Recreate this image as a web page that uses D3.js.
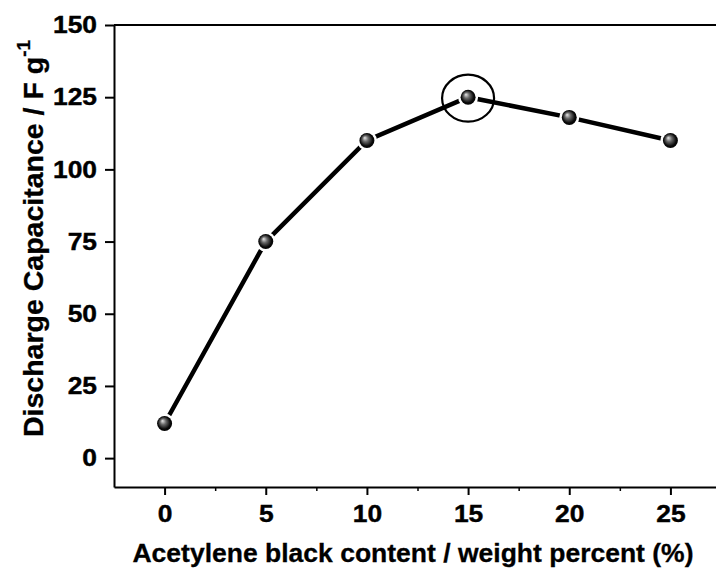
<!DOCTYPE html>
<html>
<head>
<meta charset="utf-8">
<script src="https://cdn.jsdelivr.net/npm/d3@7"></script>
<style>
  body { margin: 0; background: #fff; }
  svg { display: block; font-family: "Liberation Sans", Arial, sans-serif; font-weight: bold; }
</style>
</head>
<body>
<script>
// acetylene black content (wt %) vs discharge capacitance (F/g)
const content = [0, 5, 10, 15, 20, 25]
const capacitance = [12, 75, 110, 125, 118, 110]
const xTicks = [0, 5, 10, 15, 20, 25]
const xMinorTicks = [2.5, 7.5, 12.5, 17.5, 22.5, 27.5]
const yTicks = [0, 25, 50, 75, 100, 125, 150]
const highlighted = 15

const width = 716
const height = 569
const margin = ({ top: 25, right: -5, bottom: 82, left: 114 })

const data = content.map((c, i) => ({ x: c, y: capacitance[i] }))

const x = d3.scaleLinear()
    .domain([-2.5, 27.5])
    .range([margin.left, width - margin.right])
const y = d3.scaleLinear()
    .domain([-10, 150])
    .range([height - margin.bottom, margin.top])

const svg = d3.select('body')
    .append('svg')
    .attr('width', width)
    .attr('height', height)
    .attr('viewBox', [0, 0, width, height])

const defs = svg.append('defs')
const grad = defs.append('radialGradient')
    .attr('id', 'ball')
    .attr('cx', '50%').attr('cy', '50%').attr('r', '55%')
    .attr('fx', '35%').attr('fy', '32%')
grad.append('stop').attr('offset', '0%').attr('stop-color', '#e8e8e8')
grad.append('stop').attr('offset', '35%').attr('stop-color', '#6a6a6a')
grad.append('stop').attr('offset', '75%').attr('stop-color', '#0a0a0a')
grad.append('stop').attr('offset', '100%').attr('stop-color', '#000')

// x axis with minor ticks
svg.append('g')
    .attr('transform', `translate(0,${y(-10)})`)
    .call(d3.axisBottom(x).tickValues(xMinorTicks).tickSize(4).tickFormat(''))
    .call(g => g.select('.domain').remove())
    .call(g => g.selectAll('line').attr('stroke-width', 1.5))

// slightly wide, heavy tick digits like the original
const labelStyle = g => g.selectAll('text')
    .attr('font-size', 24)
    .attr('font-family', null)
    .attr('font-weight', 'bold')
    .attr('stroke', '#000')
    .attr('stroke-width', 0.4)
    .attr('lengthAdjust', 'spacingAndGlyphs')
    .attr('textLength', function () { return this.getComputedTextLength() * 1.1 })

const xAxis = g => g
    .attr('transform', `translate(0,${y(-10)})`)
    .call(d3.axisBottom(x).tickValues(xTicks).tickSize(8).tickSizeOuter(0).tickPadding(8))
    .call(g => g.select('.domain').attr('stroke-width', 2))
    .call(g => g.selectAll('.tick line').attr('stroke-width', 2))
    .call(labelStyle)
    .call(g => g.selectAll('text').attr('dy', '0.8em'))

const yAxis = g => g
    .attr('transform', `translate(${margin.left},0)`)
    .call(d3.axisLeft(y).tickValues(yTicks).tickSize(9).tickSizeOuter(0).tickPadding(8))
    .call(g => g.select('.domain').attr('stroke-width', 2))
    .call(g => g.selectAll('.tick line').attr('stroke-width', 2))
    .call(labelStyle)

svg.append('g').call(xAxis)
svg.append('g').call(yAxis)

// top frame line
svg.append('line')
    .attr('x1', x(-2.5)).attr('x2', x(27.5))
    .attr('y1', y(150)).attr('y2', y(150))
    .attr('stroke', '#000')
    .attr('stroke-width', 2)

const line = d3.line()
    .x(d => x(d.x))
    .y(d => y(d.y))

svg.append('path')
    .datum(data)
    .attr('fill', 'none')
    .attr('stroke', '#000')
    .attr('stroke-width', 4.5)
    .attr('d', line)

svg.append('g')
  .selectAll('circle')
  .data(data)
  .join('circle')
    .attr('cx', d => x(d.x))
    .attr('cy', d => y(d.y))
    .attr('r', 7.5)
    .attr('fill', 'url(#ball)')
    .attr('stroke', '#fff')
    .attr('stroke-width', 5)
    .attr('paint-order', 'stroke')

// highlight ring around the optimum
const best = data.find(d => d.x === highlighted)
svg.append('ellipse')
    .attr('cx', x(best.x))
    .attr('cy', y(best.y) + 1)
    .attr('rx', 26)
    .attr('ry', 23.5)
    .attr('fill', 'none')
    .attr('stroke', '#000')
    .attr('stroke-width', 2.2)

svg.append('text')
    .attr('x', 413)
    .attr('y', 562)
    .attr('text-anchor', 'middle')
    .attr('font-size', 26.5)
    .attr('stroke', '#000')
    .attr('stroke-width', 0.3)
    .text('Acetylene black content / weight percent (%)')

const yTitle = svg.append('text')
    .attr('transform', 'translate(43,437) rotate(-90)')
    .attr('font-size', 28.5)
    .attr('stroke', '#000')
    .attr('stroke-width', 0.3)
yTitle.append('tspan').text('Discharge Capacitance / F g')
yTitle.append('tspan').attr('font-size', 19).attr('dy', -13).text('-1')
</script>
</body>
</html>
